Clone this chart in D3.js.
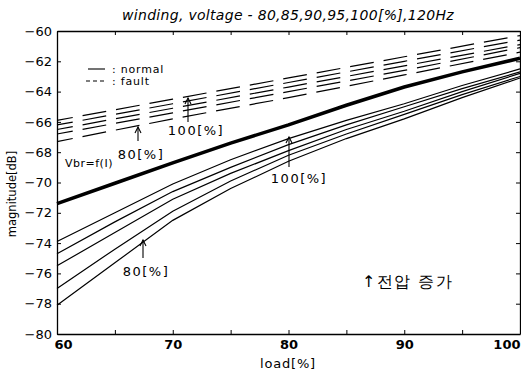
<!DOCTYPE html>
<html>
<head>
<meta charset="utf-8">
<script src="https://cdn.jsdelivr.net/npm/d3@7"></script>
<style>
  body { margin: 0; background: #fff; }
  svg { display: block; }
  text { font-family: "DejaVu Sans", sans-serif; fill: #000; }
</style>
</head>
<body>
<svg id="chart" width="521" height="375"></svg>
<script>
// ---- data ----
const loads = [60, 65, 70, 75, 80, 85, 90, 95, 100];
const normal100 = [-73.9, -72.0, -70.1, -68.5, -67.1, -65.9, -64.8, -63.6, -62.5];
const normal95  = [-74.7, -72.6, -70.6, -69.0, -67.5, -66.2, -65.0, -63.8, -62.7];
const normal90  = [-75.5, -73.3, -71.1, -69.4, -67.9, -66.5, -65.3, -64.0, -62.8];
const normal85  = [-77.0, -74.4, -71.9, -69.9, -68.2, -66.8, -65.5, -64.2, -63.0];
const normal80  = [-78.1, -75.3, -72.5, -70.4, -68.6, -67.1, -65.8, -64.4, -63.1];
const vbr       = [-71.4, -70.05, -68.7, -67.4, -66.2, -64.9, -63.7, -62.7, -61.8];
const faultLoads = [60, 70, 80, 90, 100];
const fault100 = [-65.9, -64.5, -63.1, -61.7, -60.3];
const fault95  = [-66.2, -64.8, -63.4, -62.0, -60.6];
const fault90  = [-66.5, -65.1, -63.7, -62.3, -60.9];
const fault85  = [-66.8, -65.4, -64.0, -62.6, -61.1];
const fault80  = [-67.3, -65.8, -64.4, -62.9, -61.4];
const xTicks = [60, 65, 70, 75, 80, 85, 90, 95, 100];
const xLabels = [60, 70, 80, 90, 100];
const yTicks = [-80, -78, -76, -74, -72, -70, -68, -66, -64, -62, -60];

const svg = d3.select("#chart");
const L = 57, R = 520, T = 31, B = 334;
const x = d3.scaleLinear().domain([60, 100]).range([L, R]);
const y = d3.scaleLinear().domain([-80, -60]).range([B, T]);

// axes
const yAxis = d3.axisLeft(y).tickValues(yTicks).tickSizeInner(-4).tickSizeOuter(0).tickPadding(5);
svg.append("g").attr("transform", `translate(${L},0)`).call(yAxis)
  .call(g => g.selectAll("text").attr("font-size", 13).attr("font-family", "DejaVu Sans, sans-serif"));
const yAxisR = d3.axisRight(y).tickValues(yTicks).tickSizeInner(-4).tickSizeOuter(0).tickFormat("");
svg.append("g").attr("transform", `translate(${R},0)`).call(yAxisR);

const xAxis = d3.axisBottom(x).tickValues(xTicks).tickSizeInner(-4).tickSizeOuter(0).tickPadding(6)
  .tickFormat(d => xLabels.includes(d) ? d : "");
svg.append("g").attr("transform", `translate(0,${B})`).call(xAxis)
  .call(g => g.selectAll("text").attr("font-size", 13).attr("font-weight", "bold")
    .attr("font-family", "DejaVu Sans, sans-serif"))
  .call(g => g.selectAll(".tick").filter(d => d === 100).select("text").attr("text-anchor", "end").attr("dx", 0))
  .call(g => g.selectAll(".tick").filter(d => d === 60).select("text").attr("dx", 6));
const xAxisT = d3.axisTop(x).tickValues(xTicks).tickSizeInner(-4).tickSizeOuter(0).tickFormat("");
svg.append("g").attr("transform", `translate(0,${T})`).call(xAxisT);
svg.selectAll(".domain").attr("stroke", "#000").attr("stroke-width", 1.3);
svg.selectAll(".tick line").attr("stroke", "#000");

// lines
const line = (xs) => d3.line().x((d, i) => x(xs[i])).y(d => y(d));
const normals = [normal100, normal95, normal90, normal85, normal80];
const faults = [fault100, fault95, fault90, fault85, fault80];
const plot = svg.append("g");
normals.forEach(s => plot.append("path").attr("d", line(loads)(s))
  .attr("fill", "none").attr("stroke", "#000").attr("stroke-width", 1.2));
faults.forEach(s => plot.append("path").attr("d", line(faultLoads)(s))
  .attr("fill", "none").attr("stroke", "#000").attr("stroke-width", 1.2)
  .attr("stroke-dasharray", "24,10").attr("stroke-dashoffset", 8));
plot.append("path").attr("d", line(loads)(vbr))
  .attr("fill", "none").attr("stroke", "#000").attr("stroke-width", 3.5);

// title & axis labels
svg.append("text").attr("x", 288).attr("y", 20).attr("text-anchor", "middle")
  .attr("font-size", 14).attr("font-style", "italic").attr("letter-spacing", 0.3)
  .text("winding, voltage - 80,85,90,95,100[%],120Hz");
svg.append("text").attr("x", 288).attr("y", 368).attr("text-anchor", "middle")
  .attr("font-size", 13).attr("letter-spacing", 0.8).text("load[%]");
svg.append("text").attr("transform", "translate(16,194) rotate(-90)").attr("text-anchor", "middle")
  .attr("font-size", 11.5).text("magnitude[dB]");

// legend
svg.append("line").attr("x1", 88).attr("x2", 105).attr("y1", 69).attr("y2", 69).attr("stroke", "#000").attr("stroke-width", 1.1);
svg.append("line").attr("x1", 86).attr("x2", 105).attr("y1", 81).attr("y2", 81).attr("stroke", "#000").attr("stroke-width", 1.1).attr("stroke-dasharray", "4,3");
svg.append("text").attr("x", 112).attr("y", 73).attr("font-size", 11).attr("letter-spacing", 0.8).text(": normal");
svg.append("text").attr("x", 112).attr("y", 85).attr("font-size", 11).attr("letter-spacing", 0.8).text(": fault");

// annotations
function arrow(x0, y0, y1) {
  svg.append("line").attr("x1", x0).attr("x2", x0).attr("y1", y0).attr("y2", y1).attr("stroke", "#000").attr("stroke-width", 1.1);
  svg.append("path").attr("d", `M${x0 - 3},${y1 + 6}L${x0},${y1}L${x0 + 3},${y1 + 6}`).attr("fill", "none").attr("stroke", "#000").attr("stroke-width", 1.1);
}
const ann = (tx, ty, s) => svg.append("text").attr("x", tx).attr("y", ty).attr("text-anchor", "middle")
  .attr("font-size", 13).attr("letter-spacing", 1.5).text(s);
arrow(188, 122, 98);
ann(196, 135, "100[%]");
arrow(138, 141, 127);
ann(141, 159, "80[%]");
svg.append("text").attr("x", 65).attr("y", 167).attr("font-size", 11).attr("letter-spacing", 0.5).text("Vbr=f(I)");
arrow(289, 167, 137);
ann(299, 183, "100[%]");
arrow(143, 258, 240);
ann(146, 276, "80[%]");
svg.append("text").attr("x", 362).attr("y", 287).attr("font-size", 16).attr("letter-spacing", 1.5)
  .attr("font-family", "Noto Sans CJK KR, sans-serif").text("↑전압 증가");
</script>
</body>
</html>
